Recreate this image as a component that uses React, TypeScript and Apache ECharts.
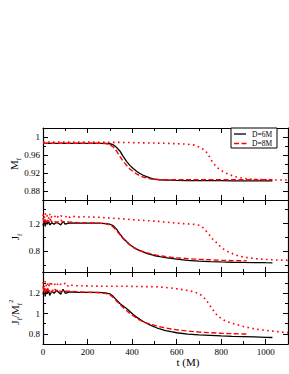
import React, { useEffect, useRef } from "react";
import * as echarts from "echarts";

// ---- data ----
const T_6M = [0,5,10,15,20,25,30,40,50,60,70,80,90,100,120,150,200,250,280,300,315,330,345,360,375,390,405,420,435,450,465,480,495,510,525,550,575,600,650,700,750,800,850,900,950,1000,1030];
const MF_6M = [0.986,0.986,0.986,0.986,0.986,0.986,0.986,0.986,0.986,0.986,0.986,0.986,0.986,0.986,0.986,0.986,0.986,0.986,0.986,0.985,0.983,0.977,0.969,0.957,0.946,0.937,0.930,0.924,0.919,0.915,0.912,0.909,0.907,0.906,0.905,0.904,0.904,0.9035,0.903,0.903,0.903,0.903,0.9025,0.9025,0.9025,0.9025,0.9025];
const JF_6M = [1.17,1.25,1.16,1.23,1.19,1.24,1.18,1.21,1.19,1.22,1.20,1.18,1.23,1.19,1.21,1.205,1.205,1.205,1.20,1.19,1.17,1.12,1.05,0.99,0.94,0.895,0.86,0.83,0.81,0.79,0.77,0.755,0.742,0.731,0.722,0.708,0.697,0.686,0.668,0.657,0.650,0.645,0.641,0.638,0.636,0.634,0.633];
const RATIO_6M = [1.19,1.25,1.17,1.24,1.20,1.23,1.18,1.22,1.20,1.23,1.21,1.19,1.24,1.20,1.215,1.21,1.21,1.21,1.205,1.195,1.17,1.135,1.10,1.075,1.05,1.02,0.99,0.965,0.943,0.922,0.905,0.889,0.874,0.86,0.848,0.833,0.821,0.811,0.798,0.79,0.785,0.78,0.776,0.773,0.77,0.766,0.764];

const T_8M_LONG = [0,5,10,15,20,25,30,40,50,60,70,80,90,100,120,150,200,250,280,300,315,330,345,360,375,390,405,420,435,450,465,480,495,510,525,550,575,600,650,700,750,800,850,900,950,1000,1030];
const MF_8M = [0.986,0.986,0.986,0.986,0.986,0.986,0.986,0.986,0.986,0.986,0.986,0.986,0.986,0.986,0.986,0.986,0.986,0.986,0.9855,0.983,0.978,0.969,0.957,0.946,0.937,0.929,0.923,0.918,0.914,0.911,0.909,0.907,0.906,0.9055,0.905,0.905,0.905,0.905,0.905,0.905,0.905,0.905,0.905,0.905,0.905,0.905,0.905];
const T_8M = [0,5,10,15,20,25,30,40,50,60,70,80,90,100,120,150,200,250,280,300,315,330,345,360,375,390,405,420,435,450,465,480,495,510,525,550,575,600,650,700,750,800,850,900,915];
const JF_8M = [1.28,1.21,1.26,1.20,1.25,1.22,1.27,1.22,1.24,1.21,1.23,1.25,1.22,1.23,1.22,1.215,1.21,1.205,1.20,1.18,1.15,1.10,1.04,0.98,0.93,0.89,0.857,0.83,0.81,0.793,0.778,0.765,0.754,0.744,0.736,0.724,0.714,0.706,0.693,0.683,0.676,0.670,0.665,0.662,0.661];
const RATIO_8M = [1.27,1.20,1.25,1.21,1.26,1.22,1.24,1.21,1.25,1.22,1.24,1.21,1.23,1.22,1.22,1.215,1.21,1.205,1.20,1.185,1.16,1.125,1.09,1.06,1.03,1.0,0.98,0.955,0.935,0.92,0.908,0.898,0.888,0.878,0.87,0.858,0.848,0.84,0.828,0.818,0.811,0.806,0.802,0.799,0.798];

const T_DOT = [0,5,10,15,20,25,30,35,40,50,60,70,80,90,100,110,120,130,140,150,175,200,250,300,350,400,450,500,550,600,650,680,700,715,730,745,760,775,790,805,820,840,860,880,900,930,960,1000,1050,1100];
const MF_DOT = [0.989,0.989,0.989,0.989,0.989,0.989,0.989,0.989,0.989,0.989,0.989,0.989,0.989,0.989,0.989,0.989,0.989,0.989,0.989,0.989,0.989,0.989,0.9885,0.988,0.988,0.9875,0.987,0.9865,0.986,0.985,0.984,0.982,0.978,0.974,0.969,0.958,0.945,0.936,0.929,0.924,0.920,0.916,0.912,0.910,0.908,0.9065,0.9055,0.905,0.9045,0.9045];
const JF_DOT = [1.33,1.27,1.35,1.29,1.32,1.27,1.34,1.28,1.31,1.29,1.33,1.28,1.31,1.30,1.29,1.32,1.29,1.31,1.30,1.29,1.30,1.295,1.29,1.28,1.27,1.256,1.245,1.235,1.222,1.205,1.195,1.188,1.175,1.15,1.10,1.045,0.98,0.935,0.885,0.845,0.808,0.78,0.753,0.73,0.716,0.702,0.691,0.681,0.673,0.668];
const RATIO_DOT = [1.31,1.26,1.32,1.27,1.30,1.26,1.31,1.27,1.30,1.28,1.31,1.27,1.29,1.28,1.30,1.27,1.29,1.28,1.28,1.275,1.275,1.273,1.27,1.27,1.27,1.268,1.266,1.265,1.258,1.245,1.228,1.213,1.195,1.175,1.14,1.095,1.045,1.0,0.968,0.945,0.925,0.91,0.897,0.885,0.872,0.858,0.845,0.834,0.822,0.812];

const X_MAJOR = [0, 200, 400, 600, 800, 1000];
const X_MINOR = [100, 300, 500, 700, 900];
const Y_RANGES = [[0.86, 1.02], [0.5, 1.54], [0.7, 1.41]];
const Y_MAJOR = [[0.88, 0.92, 0.96, 1], [0.8, 1.2], [0.8, 1, 1.2]];
const Y_MINOR = [[0.9, 0.94, 0.98], [0.6, 1, 1.4], [0.9, 1.1, 1.3]];
const LEGEND_NAMES = ["D=6M", "D=8M"];

const FONT = "'Liberation Serif', 'DejaVu Serif', serif";

const pairs = (t: number[], v: number[]) => t.map((x, i) => [x, v[i]]);

export default function App() {
  const ref = useRef<HTMLDivElement>(null);
  useEffect(() => {
    if (!ref.current) return;
    const chart = echarts.init(ref.current, null, { renderer: "svg" });
    const grids = [0, 1, 2].map((g) => ({ left: 43, right: 1, top: 128 + 72 * g, height: 72 }));

    const mkAxis = (gridIndex: number, position: string, min: number, max: number, ticks: number[], len: number, showLine: boolean, labels: boolean, isX: boolean) => ({
      type: "value",
      gridIndex,
      position,
      min,
      max,
      axisLine: { show: showLine, onZero: false, lineStyle: { color: "#000", width: 1.2 } },
      axisTick: { show: true, inside: true, length: len, customValues: ticks, lineStyle: { color: "#000", width: 1 } },
      axisLabel: labels
        ? { show: true, customValues: ticks, color: "#000", fontFamily: FONT, fontSize: 9, margin: isX ? 3 : 3, formatter: (v: number) => String(v) }
        : { show: false },
      splitLine: { show: false },
    });

    const xAxis: any[] = [];
    const yAxis: any[] = [];
    for (let g = 0; g < 3; g++) {
      xAxis.push(mkAxis(g, "bottom", 0, 1100, X_MAJOR, 5, true, g === 2, true));
      xAxis.push(mkAxis(g, "bottom", 0, 1100, X_MINOR, 3, false, false, true));
      xAxis.push(mkAxis(g, "top", 0, 1100, X_MAJOR, 5, true, false, true));
      xAxis.push(mkAxis(g, "top", 0, 1100, X_MINOR, 3, false, false, true));
      const [lo, hi] = Y_RANGES[g];
      yAxis.push(mkAxis(g, "left", lo, hi, Y_MAJOR[g], 5, true, true, false));
      yAxis.push(mkAxis(g, "left", lo, hi, Y_MINOR[g], 3, false, false, false));
      yAxis.push(mkAxis(g, "right", lo, hi, Y_MAJOR[g], 5, true, false, false));
      yAxis.push(mkAxis(g, "right", lo, hi, Y_MINOR[g], 3, false, false, false));
    }

    const dotted = (g: number, data: number[][]) => ({
      type: "line", xAxisIndex: 4 * g, yAxisIndex: 4 * g, data, showSymbol: false, symbol: "none",
      lineStyle: { color: "#ff0000", width: 1.6, type: [1.6, 3.4] }, z: 2,
    });
    const solid = (g: number, data: number[][]) => ({
      type: "line", name: LEGEND_NAMES[0], xAxisIndex: 4 * g, yAxisIndex: 4 * g, data, showSymbol: false, symbol: "none",
      lineStyle: { color: "#000", width: 1.3 }, z: 3,
    });
    const dashed = (g: number, data: number[][]) => ({
      type: "line", name: LEGEND_NAMES[1], xAxisIndex: 4 * g, yAxisIndex: 4 * g, data, showSymbol: false, symbol: "none",
      lineStyle: { color: "#ff0000", width: 1.4, type: [5, 2.5] }, z: 4,
    });

    const series = [
      dotted(0, pairs(T_DOT, MF_DOT)), solid(0, pairs(T_6M, MF_6M)), dashed(0, pairs(T_8M_LONG, MF_8M)),
      dotted(1, pairs(T_DOT, JF_DOT)), solid(1, pairs(T_6M, JF_6M)), dashed(1, pairs(T_8M, JF_8M)),
      dotted(2, pairs(T_DOT, RATIO_DOT)), solid(2, pairs(T_6M, RATIO_6M)), dashed(2, pairs(T_8M, RATIO_8M)),
    ];

    const titleStyle = (text: string) => ({
      text,
      fill: "#000",
      align: "center",
      verticalAlign: "middle",
      rich: {
        m: { fontFamily: FONT, fontSize: 11, lineHeight: 16, verticalAlign: "middle" },
        s: { fontFamily: FONT, fontSize: 7, lineHeight: 7, verticalAlign: "bottom" },
        p: { fontFamily: FONT, fontSize: 7, lineHeight: 7, verticalAlign: "top" },
      },
    });

    const graphic: any[] = [
      { type: "text", x: 14, y: 164, rotation: Math.PI / 2, style: titleStyle("{m|M}{s|f}"), z: 10 },
      { type: "text", x: 15, y: 237, rotation: Math.PI / 2, style: titleStyle("{m|J}{s|f}"), z: 10 },
      { type: "text", x: 15, y: 312, rotation: Math.PI / 2, style: titleStyle("{m|J}{s|f}{m|/M}{s|f}{p|2}"), z: 10 },
      { type: "text", x: 188, y: 362, style: { text: "t (M)", fill: "#000", font: `11px ${FONT}`, align: "center", verticalAlign: "middle" }, z: 10 },
      { type: "rect", shape: { x: 231, y: 128, width: 46, height: 20 }, style: { fill: "#fff", stroke: "#000", lineWidth: 1 }, z: 20 },
      { type: "line", shape: { x1: 234, y1: 134, x2: 246, y2: 134 }, style: { stroke: "#000", lineWidth: 1.3 }, z: 21 },
      { type: "line", shape: { x1: 234, y1: 143.5, x2: 247, y2: 143.5 }, style: { stroke: "#ff0000", lineWidth: 1.4, lineDash: [5, 2.5] }, z: 21 },
      { type: "text", x: 252, y: 134, style: { text: LEGEND_NAMES[0], fill: "#000", font: `7.5px ${FONT}`, align: "left", verticalAlign: "middle" }, z: 21 },
      { type: "text", x: 252, y: 143.5, style: { text: LEGEND_NAMES[1], fill: "#000", font: `7.5px ${FONT}`, align: "left", verticalAlign: "middle" }, z: 21 },
    ];

    chart.setOption({
      animation: false,
      backgroundColor: "#fff",
      grid: grids,
      xAxis,
      yAxis,
      series,
      graphic,
    } as any);
    return () => chart.dispose();
  }, []);
  return <div ref={ref} style={{ position: "absolute", left: 0, top: 0, width: 289, height: 374 }} />;
}
